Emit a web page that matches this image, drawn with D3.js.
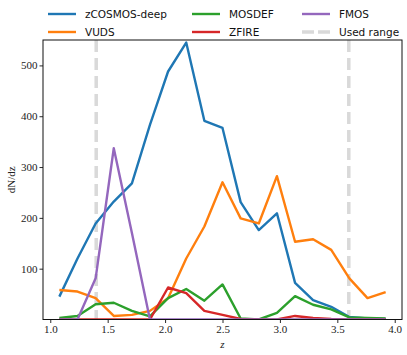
<!DOCTYPE html>
<html lang="en">
<head>
<meta charset="UTF-8">
<title></title>
<style>
    body { margin: 0; background: #fff; }
    .legend text { font-family: "DejaVu Sans", sans-serif; font-size: 10.5px; fill: #111; }
</style>
<script src="https://cdnjs.cloudflare.com/ajax/libs/d3/7.8.5/d3.min.js"></script>
</head>
<body>
<svg id="chart"></svg>
<script>
    // bin centres, 19 bins between z=1 and z=4
    var zCentres = [1.079, 1.237, 1.395, 1.553, 1.711, 1.868, 2.026, 2.184, 2.342, 2.500,
                    2.658, 2.816, 2.974, 3.132, 3.289, 3.447, 3.605, 3.763, 3.921];

    var zcosmos = [45, 120, 189, 232, 268, 383, 488, 545, 391, 377, 231, 176, 209, 72, 38, 25, 5, 2, 1];
    var vuds    = [58, 55, 42, 7, 9, 17, 42, 120, 183, 270, 199, 189, 282, 153, 158, 137, 81, 42, 54];
    var mosdef  = [3, 7, 30, 33, 17, 6, 42, 60, 37, 69, 2, 0, 13, 46, 29, 20, 4, 3, 2];
    var zfire   = [0, 0, 0, 0, 0, 0, 63, 52, 17, 9, 1, 0, 0, 7, 3, 1, 0, 0, 0];
    var fmos    = [0, 0, 81, 337, 170, 0, 0, 0, 0, 0, 0, 0, 0, 0, 0, 0, 0, 0, 0];

    var usedRange = [1.4, 3.6];
    var xTicks = [1.0, 1.5, 2.0, 2.5, 3.0, 3.5, 4.0];
    var yTicks = [100, 200, 300, 400, 500];

    var series = [
        {name: "zCOSMOS-deep", values: zcosmos, color: "#1f77b4"},
        {name: "VUDS", values: vuds, color: "#ff7f0e"},
        {name: "MOSDEF", values: mosdef, color: "#2ca02c"},
        {name: "ZFIRE", values: zfire, color: "#d62728"},
        {name: "FMOS", values: fmos, color: "#9467bd"}
    ];

    var serif = "'Liberation Serif', 'Times New Roman', serif";

    var W = 407, H = 355;
    var margin = {left: 43, right: 5, top: 40, bottom: 35.5};

    var svg = d3.select("#chart").attr("width", W).attr("height", H);

    var x = d3.scaleLinear().domain([0.9366, 4.0634]).range([margin.left, W - margin.right]);
    var y = d3.scaleLinear().domain([0, 550]).range([H - margin.bottom, margin.top]);

    svg.append("clipPath").attr("id", "plot-clip")
        .append("rect")
        .attr("x", margin.left).attr("y", margin.top)
        .attr("width", W - margin.left - margin.right)
        .attr("height", H - margin.top - margin.bottom);

    var plot = svg.append("g").attr("clip-path", "url(#plot-clip)");

    // used range markers
    plot.selectAll("line.range")
        .data(usedRange)
        .enter().append("line")
        .attr("class", "range")
        .attr("x1", function(d) { return x(d); })
        .attr("x2", function(d) { return x(d); })
        .attr("y1", margin.top).attr("y2", H - margin.bottom)
        .attr("stroke", "#d9d9d9")
        .attr("stroke-width", 3.5)
        .attr("stroke-dasharray", "12,6");

    var line = d3.line()
        .x(function(d, i) { return x(zCentres[i]); })
        .y(function(d) { return y(d); });

    plot.selectAll("path.series")
        .data(series)
        .enter().append("path")
        .attr("class", "series")
        .attr("d", function(d) { return line(d.values); })
        .attr("fill", "none")
        .attr("stroke", function(d) { return d.color; })
        .attr("stroke-width", 2.4)
        .attr("stroke-linejoin", "round");

    // axes
    var xAxis = svg.append("g")
        .attr("transform", "translate(0," + (H - margin.bottom) + ")")
        .call(d3.axisBottom(x).tickValues(xTicks).tickFormat(d3.format(".1f")).tickSize(3.5).tickPadding(2));

    var yAxis = svg.append("g")
        .attr("transform", "translate(" + margin.left + ",0)")
        .call(d3.axisLeft(y).tickValues(yTicks).tickSize(3.5).tickPadding(2));

    [xAxis, yAxis].forEach(function(g) {
        g.select(".domain").remove();
        g.attr("font-family", serif).attr("font-size", 11);
        g.selectAll(".tick text").attr("fill", "#222");
        g.selectAll(".tick line").attr("stroke", "#111").attr("stroke-width", 0.9);
    });

    svg.append("rect")
        .attr("x", margin.left).attr("y", margin.top)
        .attr("width", W - margin.left - margin.right)
        .attr("height", H - margin.top - margin.bottom)
        .attr("fill", "none")
        .attr("stroke", "#111")
        .attr("stroke-width", 1);

    // axis labels
    svg.append("text")
        .attr("x", (margin.left + W - margin.right) / 2)
        .attr("y", 348)
        .attr("text-anchor", "middle")
        .attr("font-family", serif)
        .attr("font-style", "italic")
        .attr("font-size", 11)
        .attr("fill", "#222")
        .text("z");

    svg.append("text")
        .attr("transform", "translate(15," + ((margin.top + H - margin.bottom) / 2) + ") rotate(-90)")
        .attr("text-anchor", "middle")
        .attr("font-family", serif)
        .attr("font-size", 11)
        .attr("fill", "#222")
        .text("dN/dz");

    // legend, 3 columns filled column by column
    var legendItems = series.map(function(s) { return {name: s.name, color: s.color, dash: null}; });
    legendItems.push({name: "Used range", color: "#d9d9d9", dash: "12,4"});

    var colX = [48, 192, 302], rowY = [14, 32];
    var legend = svg.append("g").attr("class", "legend");
    var item = legend.selectAll("g")
        .data(legendItems)
        .enter().append("g")
        .attr("transform", function(d, i) {
            return "translate(" + colX[Math.floor(i / 2)] + "," + rowY[i % 2] + ")";
        });

    item.append("line")
        .attr("x1", 0).attr("x2", 28)
        .attr("stroke", function(d) { return d.color; })
        .attr("stroke-width", function(d) { return d.dash ? 3.5 : 2.4; })
        .attr("stroke-dasharray", function(d) { return d.dash; });

    item.append("text")
        .attr("x", 37)
        .attr("dy", "0.35em")
        .text(function(d) { return d.name; });
</script>
</body>
</html>
